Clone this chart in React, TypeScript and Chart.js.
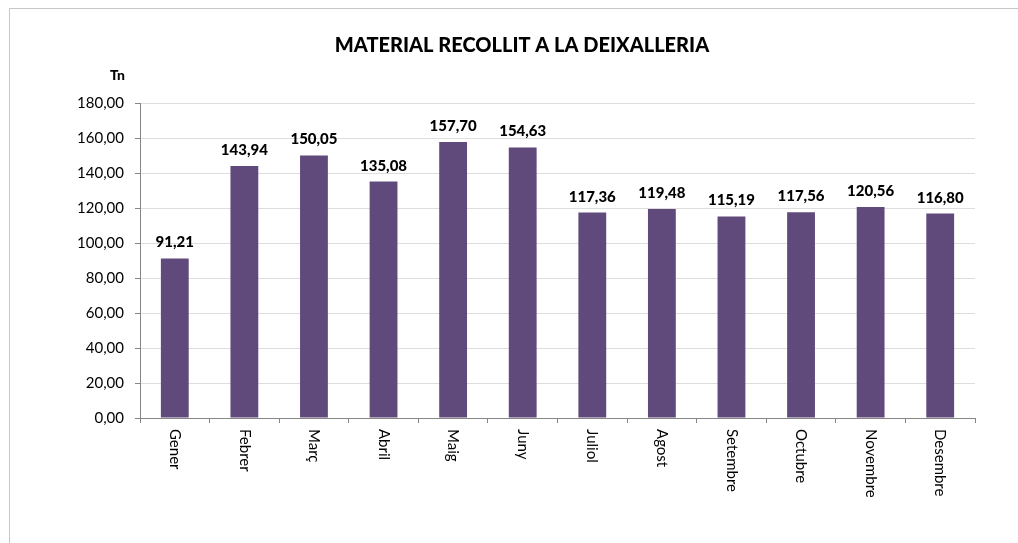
import React, { useEffect, useRef } from "react";
import { Chart, registerables } from "chart.js";

Chart.register(...registerables);

const TITLE = "MATERIAL RECOLLIT A LA DEIXALLERIA";
const Y_UNIT = "Tn";
const months = ["Gener", "Febrer", "Març", "Abril", "Maig", "Juny", "Juliol", "Agost", "Setembre", "Octubre", "Novembre", "Desembre"];
const tonnes = [91.21, 143.94, 150.05, 135.08, 157.7, 154.63, 117.36, 119.48, 115.19, 117.56, 120.56, 116.8];

const FONT = "Lato, 'Open Sans', sans-serif";
const fmt = (v: number) => v.toFixed(2).replace(".", ",");

export default function App() {
  const ref = useRef<HTMLCanvasElement>(null);
  useEffect(() => {
    const canvas = ref.current!;
    const decor = {
      id: "decor",
      beforeDraw(chart: any) {
        const ctx = chart.ctx;
        ctx.save();
        ctx.fillStyle = "#fff";
        ctx.fillRect(0, 0, chart.width, chart.height);
        ctx.strokeStyle = "#C6C6C6";
        ctx.lineWidth = 1;
        ctx.beginPath();
        ctx.moveTo(9.5, chart.height);
        ctx.lineTo(9.5, 8.5);
        ctx.lineTo(chart.width, 8.5);
        ctx.stroke();
        ctx.restore();
      },
      afterDraw(chart: any) {
        const ctx = chart.ctx;
        ctx.save();
        ctx.fillStyle = "#000";
        ctx.font = `900 20px ${FONT}`;
        ctx.textAlign = "center";
        ctx.textBaseline = "alphabetic";
        ctx.fillText(TITLE, 522, 52);
        ctx.font = `900 14px ${FONT}`;
        ctx.textAlign = "right";
        ctx.fillText(Y_UNIT, 125, 80);
        // x labels rotated clockwise
        const xs = chart.scales.x;
        ctx.font = `15px ${FONT}`;
        ctx.textAlign = "left";
        ctx.textBaseline = "middle";
        months.forEach((m, i) => {
          const x = xs.getPixelForValue(i);
          ctx.save();
          ctx.translate(x, xs.top + 11);
          ctx.rotate(Math.PI / 2);
          ctx.fillText(m, 0, 0);
          ctx.restore();
        });
        // data labels
        const meta = chart.getDatasetMeta(0);
        ctx.font = `900 15px ${FONT}`;
        ctx.textAlign = "center";
        ctx.textBaseline = "alphabetic";
        meta.data.forEach((bar: any, i: number) => {
          ctx.fillText(fmt(tonnes[i]), bar.x, bar.y - 11);
        });
        ctx.restore();
      },
    };
    const chart = new Chart(canvas, {
      type: "bar",
      data: {
        labels: months,
        datasets: [
          {
            data: tonnes,
            backgroundColor: "#604A7B",
            borderWidth: 0,
            categoryPercentage: 1,
            barPercentage: 0.4,
          },
        ],
      },
      options: {
        animation: false,
        responsive: false,
        maintainAspectRatio: false,
        layout: { padding: { left: 0, right: 43, top: 103, bottom: 0 } },
        plugins: { legend: { display: false }, title: { display: false }, tooltip: { enabled: false } },
        scales: {
          x: {
            offset: true,
            grid: { display: true, drawOnChartArea: false, drawTicks: true, tickLength: 5, color: "#868686", offset: true },
            border: { display: true, color: "#868686", width: 1 },
            ticks: { display: false },
            afterFit: (s: any) => {
              s.height = 125;
            },
          },
          y: {
            min: 0,
            max: 180,
            grid: { color: "#DDDDDD", tickColor: "#868686", tickLength: 5, drawTicks: true },
            border: { display: true, color: "#868686", width: 1 },
            ticks: {
              stepSize: 20,
              padding: 11,
              color: "#000",
              font: { family: FONT, size: 15 },
              callback: (v: any) => fmt(Number(v)),
            },
            afterFit: (s: any) => {
              s.width = 140;
            },
          },
        },
      },
      plugins: [decor],
    });
    return () => chart.destroy();
  }, []);
  return (
    <div style={{ position: "fixed", left: 0, top: 0, width: 1018, height: 543 }}>
      <canvas ref={ref} width={1018} height={543} style={{ display: "block" }} />
    </div>
  );
}
